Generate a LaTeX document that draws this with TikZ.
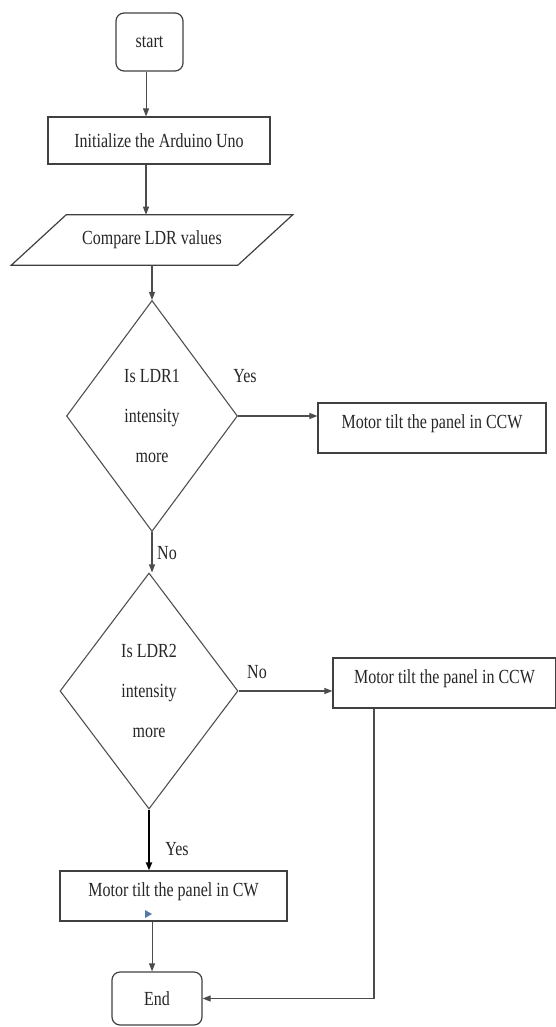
\documentclass[tikz,border=0pt]{standalone}
\usepackage{fontspec}
\setmainfont{Liberation Serif}[FakeStretch=0.8]
\usetikzlibrary{shapes.geometric,arrows.meta,calc}
\begin{document}
\begin{tikzpicture}[x=0.75pt,y=-0.75pt,
  every node/.style={font=\fontsize{15}{18}\selectfont, text=black!85},
  box/.style={draw=black!75, line width=0.9pt, inner sep=0pt, minimum height=37.5pt},
  term/.style={box, rounded corners=6pt},
  raised/.style={text depth=9pt},
  dec/.style={draw=black!70, line width=0.8pt, diamond, inner sep=0pt, align=center,
              font=\fontsize{15}{30}\selectfont},
  conn/.style={draw=black!70, line width=0.8pt, -{Triangle[length=6pt,width=4.5pt]}},
  lbl/.style={inner sep=0pt}]
\useasboundingbox (0,0) rectangle (556,1027);

% nodes
\node[term, minimum width=50.25pt, minimum height=43.5pt] (start) at (149.5,42) {start};
\node[box, minimum width=166.5pt, minimum height=35.25pt] (init) at (159,140.5) {Initialize the Arduino Uno};
\node[inner sep=0pt, minimum width=169.5pt, minimum height=37.5pt] (para) at (152,240) {Compare LDR values};
\draw[draw=black!75, line width=0.9pt]
  ($(para.south west)+(-27.5,0)$) -- ($(para.north west)+(27.5,0)$) --
  ($(para.north east)+(27.5,0)$) -- ($(para.south east)+(-27.5,0)$) -- cycle;
\node[dec, aspect=0.74, minimum width=128.25pt, minimum height=173.25pt] (d1) at (152,416)
  {Is LDR1\\intensity\\more};
\node[box, raised, minimum width=171pt] (box1) at (432,428) {Motor tilt the panel in CCW};
\node[dec, aspect=0.754, minimum width=133.5pt, minimum height=177pt] (d2) at (149,691)
  {Is LDR2\\intensity\\more};
\node[box, raised, minimum width=167.25pt] (box2) at (444.5,683) {Motor tilt the panel in CCW};
\node[box, raised, minimum width=170.25pt] (cw) at (173.5,896) {Motor tilt the panel in CW};
\node[term, minimum width=67.5pt, minimum height=39.75pt] (end) at (157,998.5) {End};

% labels
\node[lbl] (yes1) at (245,376) {Yes};
\node[lbl] (no1) at (167,553) {No};
\node[lbl] (no2) at (257,672) {No};
\node[lbl] (yes2) at (177,849) {Yes};

% connectors
\coordinate (s1) at ([xshift=-2.6pt]start.south);
\draw[conn] (s1) -- (s1 |- init.north);
\coordinate (a1) at ([xshift=-9.75pt]init.south);
\draw[conn] (a1) -- (a1 |- para.north);
\draw[conn] (para.south) -- (d1.north);
\draw[conn] (d1.east) -- (d1.east -| box1.west);
\draw[conn] (d1.south) -- (d1.south |- d2.north);
\draw[conn] (d2.east) -- (d2.east -| box2.west);
\draw[conn, draw=black, line width=1.4pt] (d2.south) -- (d2.south |- cw.north);
\coordinate (c1) at ([xshift=-16.1pt]cw.south);
\draw[conn] (c1) -- (c1 |- end.north);
\coordinate (b2) at ([xshift=-52.9pt]box2.south);
\draw[conn] (b2) |- (end.east);

% small blue marker
\fill[color={rgb,255:red,85;green,120;blue,165}] (145,910) -- (152,914) -- (145,918) -- cycle;
\end{tikzpicture}
\end{document}
